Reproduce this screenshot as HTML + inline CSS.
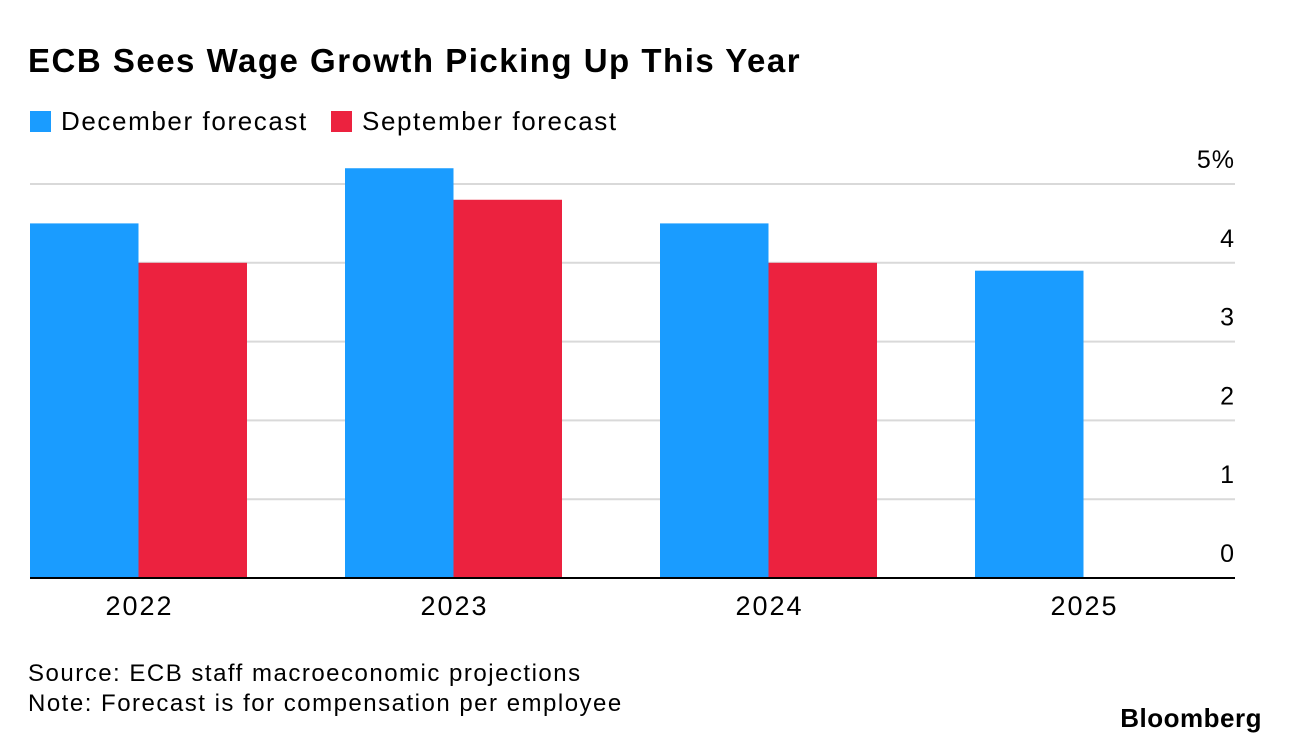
<!DOCTYPE html>
<html><head><meta charset="utf-8">
<style>
body{margin:0;width:1289px;height:744px;background:#fff;font-family:"Liberation Sans",sans-serif;position:relative;overflow:hidden;color:#000}
.t{position:absolute;white-space:nowrap}
</style></head>
<body>
<div class="t" style="left:28px;top:42px;font-size:33px;font-weight:bold;letter-spacing:1.5px">ECB Sees Wage Growth Picking Up This Year</div>
<div class="t" style="left:30px;top:106px;font-size:26px;letter-spacing:1.6px"><span style="display:inline-block;width:21px;height:21px;background:#1a9cff;vertical-align:-2px;margin-right:10px"></span>December forecast</div>
<div class="t" style="left:331px;top:106px;font-size:26px;letter-spacing:1.6px"><span style="display:inline-block;width:21px;height:21px;background:#ec223f;vertical-align:-2px;margin-right:10px"></span>September forecast</div>
<svg id="chart" width="1289" height="744" style="position:absolute;left:0;top:0"></svg>
<div class="t" style="left:28px;top:660px;font-size:24px;letter-spacing:1.5px">Source: ECB staff macroeconomic projections</div>
<div class="t" style="left:28px;top:690px;font-size:24px;letter-spacing:1.5px">Note: Forecast is for compensation per employee</div>
<div class="t" style="right:27px;top:703px;font-size:26px;font-weight:bold;letter-spacing:0.5px">Bloomberg</div>
<script>
const categories=["2022","2023","2024","2025"];
const decValues=[4.5,5.2,4.5,3.9];
const sepValues=[4.0,4.8,4.0,null];
const ticks=[0,1,2,3,4,5];
const tickLabels=["0","1","2","3","4","5%"];
const ns="http://www.w3.org/2000/svg";
const svg=document.getElementById("chart");
const x0=30,x1=1235,y0=578,yTop=184,vmax=5;
const y=v=>y0-(v/vmax)*(y0-yTop);
const band=315,bw=108.5;
const xb=i=>x0+i*band;
function mk(tag,attrs){const e=document.createElementNS(ns,tag);for(const k in attrs)e.setAttribute(k,attrs[k]);svg.appendChild(e);return e;}
ticks.forEach((t,i)=>{
  if(t>0){const g=mk("line",{x1:x0,x2:x1,y1:y(t),y2:y(t),stroke:"#d9d9d9","stroke-width":2});
  
  }
  const tx=mk("text",{x:x1,y:y(t)-16,"text-anchor":"end","font-size":25,"letter-spacing":1,"font-family":"Liberation Sans, sans-serif"});
  tx.textContent=tickLabels[i];
  
  
});
categories.forEach((c,i)=>{
  const d=mk("rect",{x:xb(i),y:y(decValues[i]),width:bw,height:y0-y(decValues[i]),fill:"#1a9cff"});
  
  
  if(sepValues[i]!=null){
    const s=mk("rect",{x:xb(i)+bw,y:y(sepValues[i]),width:bw,height:y0-y(sepValues[i]),fill:"#ec223f"});
    
    
  }
  const l=mk("text",{x:xb(i)+bw+1,y:615,"text-anchor":"middle","font-size":27,"letter-spacing":2,"font-family":"Liberation Sans, sans-serif"});
  l.textContent=c;
  
  
});
const ax=mk("line",{x1:x0,x2:x1,y1:y0,y2:y0,stroke:"#000","stroke-width":2});


</script>
</body></html>
